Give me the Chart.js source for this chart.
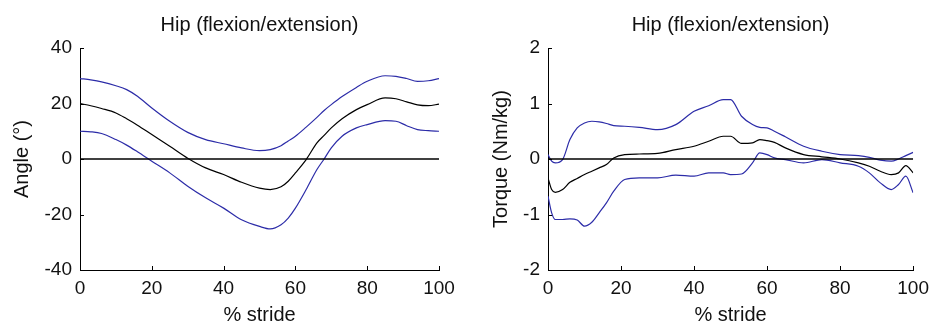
<!DOCTYPE html>
<html>
<head>
<meta charset="utf-8">
<script src="https://cdn.jsdelivr.net/npm/chart.js@4"></script>
<style>
  body { margin: 0; background: #fff; }
  .wrap { position: absolute; top: 0; width: 468px; height: 327px; }
</style>
</head>
<body>
<div class="wrap" style="left:0"><canvas id="angle" width="468" height="327"></canvas></div>
<div class="wrap" style="left:468px"><canvas id="torque" width="468" height="327"></canvas></div>
<script>
// hip angle (deg) vs % stride
const angleStride = [0, 3, 6, 10, 13, 16, 20, 25, 30, 35, 40, 45, 50, 53, 56, 58, 60, 63, 66, 68, 70, 73, 77, 80, 85, 88, 91, 94, 97, 100];
const angleUpper = [29, 28.5, 27.8, 26.4, 25, 22.6, 18.4, 13.6, 9.6, 7, 5.5, 4, 3, 3.4, 4.8, 6.5, 8.2, 11.5, 15, 17.5, 19.6, 22.5, 25.8, 28, 30, 29.8, 29, 28, 28.2, 29];
const angleMean = [20, 19.2, 18.2, 16.6, 14.5, 12.2, 8.8, 4.6, 0.3, -3.2, -5.6, -8.4, -10.5, -11, -10, -8, -5, -0.2, 5.8, 8.5, 11.2, 14.5, 17.8, 19.6, 22, 21.7, 20.6, 19.5, 19.2, 19.8];
const angleLower = [10, 9.8, 9.2, 7, 5, 2.6, -0.8, -5, -9.8, -14, -17.7, -21.9, -24.3, -25.2, -23.7, -21.3, -17.7, -11, -3.8, 0, 4, 8.2, 11.2, 12.4, 13.8, 13.6, 12, 10.6, 10.2, 10];

// hip torque (Nm/kg) vs % stride
const torqueStride = [0, 1, 2, 4, 6, 8, 10, 12, 14, 16, 18, 21, 25, 30, 35, 40, 44, 48, 50, 53, 56, 58, 60, 62, 65, 70, 75, 80, 85, 88, 91, 94, 96, 98, 100];
const torqueUpper = [0.08, -0.04, -0.07, -0.01, 0.35, 0.56, 0.65, 0.68, 0.67, 0.64, 0.6, 0.59, 0.57, 0.53, 0.62, 0.86, 0.96, 1.07, 1.07, 0.77, 0.62, 0.57, 0.56, 0.5, 0.4, 0.23, 0.14, 0.08, 0.06, 0.03, -0.02, -0.04, 0, 0.06, 0.12];
const torqueMean = [-0.34, -0.55, -0.6, -0.55, -0.42, -0.35, -0.28, -0.22, -0.16, -0.1, 0.02, 0.08, 0.09, 0.1, 0.17, 0.23, 0.32, 0.41, 0.41, 0.28, 0.29, 0.35, 0.33, 0.3, 0.2, 0.08, 0.04, 0, -0.07, -0.13, -0.22, -0.28, -0.25, -0.12, -0.25];
const torqueLower = [-0.67, -0.97, -1.09, -1.09, -1.08, -1.1, -1.21, -1.14, -0.97, -0.79, -0.58, -0.37, -0.34, -0.34, -0.29, -0.31, -0.25, -0.25, -0.28, -0.27, -0.07, 0.11, 0.08, 0.02, -0.01, -0.07, -0.01, -0.07, -0.13, -0.25, -0.43, -0.55, -0.46, -0.31, -0.61];

const zeroX = [0, 100];
const zeroY = [0, 0];

const blue = '#2c2ca8';
const font = 'Liberation Sans, Arial, sans-serif';
Chart.defaults.font.family = font;
Chart.defaults.color = '#111';

function pts(xs, ys) {
  return xs.map(function (x, i) { return { x: x, y: ys[i] }; });
}

function line(xs, ys, color, width) {
  return {
    data: pts(xs, ys),
    borderColor: color,
    borderWidth: width,
    pointRadius: 0,
    fill: false,
    cubicInterpolationMode: 'monotone'
  };
}

// matlab style: ticks point into the plot, title over the plot area
const matlabAxes = {
  id: 'matlabAxes',
  afterDraw: function (chart, args, opts) {
    const ctx = chart.ctx;
    const a = chart.chartArea;
    const xs = chart.scales.x, ys = chart.scales.y;
    ctx.save();
    ctx.strokeStyle = '#000';
    ctx.lineWidth = 1;
    ctx.beginPath();
    xs.ticks.forEach(function (t) {
      const px = Math.round(xs.getPixelForValue(t.value)) + 0.5;
      ctx.moveTo(px, a.bottom);
      ctx.lineTo(px, a.bottom - 4);
    });
    ys.ticks.forEach(function (t) {
      const py = Math.round(ys.getPixelForValue(t.value)) + 0.5;
      ctx.moveTo(a.left, py);
      ctx.lineTo(a.left + 4, py);
    });
    ctx.stroke();
    ctx.fillStyle = '#111';
    ctx.font = '20px ' + font;
    ctx.textAlign = 'center';
    ctx.textBaseline = 'middle';
    ctx.fillText(opts.text, (a.left + a.right) / 2, 25);
    ctx.restore();
  }
};

function makeChart(id, xs, upper, mean, lower, yMin, yMax, yStep, yTitle, rightPad, titlePad) {
  return new Chart(document.getElementById(id), {
    type: 'line',
    data: {
      datasets: [
        line(zeroX, zeroY, '#000', 1.6),
        line(xs, upper, blue, 1.2),
        line(xs, lower, blue, 1.2),
        line(xs, mean, '#000', 1.2)
      ]
    },
    options: {
      responsive: false,
      animation: false,
      layout: { padding: { top: 48, right: rightPad, left: 0, bottom: 0 } },
      plugins: {
        legend: { display: false },
        tooltip: { enabled: false },
        matlabAxes: { text: 'Hip (flexion/extension)' }
      },
      scales: {
        x: {
          type: 'linear',
          min: 0, max: 100,
          afterFit: function (s) { s.height = 57; },
          grid: { display: false, drawTicks: false },
          border: { display: true, color: '#000', width: 1 },
          ticks: { stepSize: 20, padding: 7, font: { size: 19 }, maxRotation: 0 },
          title: { display: true, text: '% stride', font: { size: 20 }, padding: { top: 0, bottom: 0 } }
        },
        y: {
          min: yMin, max: yMax,
          afterFit: function (s) { s.width = 80; },
          grid: { display: false, drawTicks: false },
          border: { display: true, color: '#000', width: 1 },
          ticks: { stepSize: yStep, padding: 8, font: { size: 19 } },
          title: { display: true, text: yTitle, font: { size: 20 }, padding: { top: titlePad, bottom: 0 } }
        }
      }
    },
    plugins: [matlabAxes]
  });
}

makeChart('angle', angleStride, angleUpper, angleMean, angleLower, -40, 40, 20, 'Angle (°)', 29, 10);
makeChart('torque', torqueStride, torqueUpper, torqueMean, torqueLower, -2, 2, 1, 'Torque (Nm/kg)', 16, 21);
</script>
</body>
</html>
